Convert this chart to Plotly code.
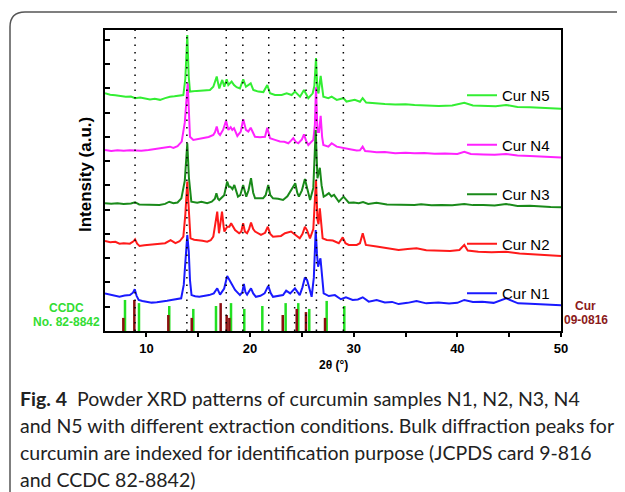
import plotly.graph_objects as go

# XRD patterns, 2theta in degrees, intensity offset per sample (a.u.)
n1_x = [6.0, 6.5, 7.0, 7.4, 7.9, 8.4, 8.7, 8.87, 9.05, 9.25, 9.6, 10.0, 10.5, 11.0, 11.6, 12.0, 12.4, 12.9,
        13.35, 13.6, 13.8, 13.94, 14.08, 14.2, 14.35, 14.7, 15.1, 15.6, 16.05, 16.5, 16.83, 17.1, 17.5, 17.79,
        17.95, 18.17, 18.55, 19.02, 19.25, 19.4, 19.55, 19.71, 20.09, 20.3, 20.56, 21.0, 21.4, 21.75, 22.0,
        22.21, 22.7, 23.18, 23.48, 23.87, 24.33, 24.6, 24.79, 25.05, 25.29, 25.5, 25.67, 25.94, 26.15, 26.33,
        26.45, 26.56, 26.79, 26.95, 27.1, 27.6, 28.18, 28.76, 29.25, 29.9, 30.4, 30.87, 31.45, 32.21, 33.0,
        33.7, 34.33, 35.2, 36.06, 37.0, 38.17, 39.2, 40.0, 40.67, 41.5, 42.4, 43.5, 44.71, 45.86, 47.0, 48.0,
        49.0, 50.0]
n1_y = [1.55, 1.5, 1.46, 1.41, 1.46, 1.48, 1.58, 1.72, 1.45, 1.28, 1.24, 1.2, 1.17, 1.19, 1.21, 1.25, 1.28, 1.31,
        1.35, 1.9, 3.2, 3.96, 3.3, 2.1, 1.48, 1.43, 1.41, 1.44, 1.48, 1.55, 1.76, 1.5, 1.75, 2.27,
        2.15, 2.03, 1.69, 1.48, 1.6, 1.94, 1.6, 1.5, 1.76, 1.55, 1.41, 1.45, 1.55, 1.86, 1.55,
        1.41, 1.44, 1.48, 1.66, 1.55, 1.76, 1.6, 1.48, 1.8, 2.21, 2.1, 1.83, 1.41, 2.2, 4.16,
        3.2, 2.65, 3.0, 2.2, 1.55, 1.44, 1.48, 1.31, 1.39, 1.28, 1.3, 1.39, 1.21, 1.28, 1.18,
        1.2, 1.11, 1.16, 1.24, 1.14, 1.17, 1.13, 1.16, 1.28, 1.2, 1.21, 1.16, 1.35, 1.14, 1.12, 1.1,
        1.09, 1.06]

n2_x = [6.0, 6.5, 7.0, 7.4, 7.8, 8.4, 8.75, 8.9, 9.1, 9.33, 9.8, 10.3, 10.8, 11.25, 11.8, 12.33, 12.6, 12.8,
        13.2, 13.56, 13.75, 13.94, 14.1, 14.25, 14.6, 14.9, 15.4, 15.86, 16.2, 16.45, 16.65, 16.83, 17.0,
        17.12, 17.29, 17.45, 17.52, 17.79, 18.0, 18.17, 18.55, 18.94, 19.15, 19.33, 19.5, 19.71, 19.9, 20.09,
        20.3, 20.48, 21.05, 21.45, 21.71, 21.95, 22.21, 22.98, 23.37, 23.95, 24.4, 24.79, 25.05, 25.29, 25.5,
        25.78, 26.1, 26.36, 26.5, 26.6, 26.73, 26.87, 27.0, 27.4, 27.98, 28.56, 28.94, 29.2, 29.52, 30.29,
        30.6, 30.87, 31.17, 32.21, 33.2, 34.33, 35.2, 36.06, 37.0, 38.17, 39.3, 40.2, 40.67, 41.0, 42.02,
        43.3, 44.71, 46.0, 47.5, 49.0, 50.0]
n2_y = [3.71, 3.66, 3.68, 3.6, 3.62, 3.6, 3.7, 3.78, 3.6, 3.51, 3.54, 3.56, 3.58, 3.59, 3.62, 3.75, 3.66, 3.62,
        3.7, 3.89, 4.8, 6.16, 4.9, 3.82, 3.76, 3.75, 3.72, 3.68, 3.74, 3.89, 4.4, 4.92, 4.03,
        4.4, 4.92, 4.3, 4.1, 4.3, 4.3, 4.44, 4.16, 4.03, 4.1, 4.44, 4.1, 4.03, 4.2, 4.47,
        4.2, 4.1, 3.96, 4.05, 4.3, 4.0, 3.89, 3.92, 4.03, 4.1, 3.96, 3.82, 4.0, 4.3, 4.15,
        3.82, 4.2, 6.23, 4.6, 4.4, 5.06, 4.3, 3.82, 3.75, 3.73, 3.62, 3.86, 3.62, 3.55, 3.55,
        3.62, 4.03, 3.55, 3.48, 3.42, 3.34, 3.38, 3.41, 3.33, 3.31, 3.3, 3.34, 3.55, 3.32, 3.27,
        3.25, 3.27, 3.2, 3.16, 3.12, 3.09]

n3_x = [6.0, 6.6, 7.2, 7.8, 8.5, 8.9, 9.3, 9.8, 10.5, 11.25, 11.8, 12.2, 12.6, 13.0, 13.37, 13.7, 13.94, 14.1,
        14.33, 14.9, 15.3, 15.86, 16.3, 16.6, 16.75, 16.9, 17.02, 17.5, 17.79, 17.95, 18.1, 18.3, 18.48, 18.83,
        19.05, 19.33, 19.63, 19.85, 20.09, 20.3, 20.48, 21.25, 21.5, 21.75, 21.95, 22.21, 22.7, 23.18, 23.6,
        23.95, 24.15, 24.36, 24.55, 24.71, 25.0, 25.29, 25.5, 25.79, 26.1, 26.33, 26.5, 26.73, 26.9, 27.1,
        27.35, 27.6, 27.85, 28.1, 28.56, 29.02, 29.52, 30.0, 30.48, 30.9, 31.4, 32.2, 33.2, 34.3, 35.86,
        36.5, 37.5, 38.5, 39.5, 40.67, 41.5, 42.5, 43.6, 44.7, 45.8, 47.0, 48.0, 49.0, 50.0]
n3_y = [5.27, 5.25, 5.27, 5.24, 5.26, 5.31, 5.22, 5.21, 5.2, 5.2, 5.24, 5.33, 5.27, 5.3, 5.47, 6.2, 7.74, 6.3,
        5.33, 5.29, 5.33, 5.27, 5.33, 5.45, 5.68, 5.45, 5.4, 5.6, 6.16, 5.95, 5.95, 5.85, 6.02, 5.54,
        5.6, 6.02, 5.54, 5.8, 6.3, 5.7, 5.47, 5.47, 5.6, 6.02, 5.6, 5.47, 5.45, 5.4, 5.55,
        5.81, 5.9, 6.09, 5.7, 5.54, 5.8, 6.27, 5.9, 5.4, 5.9, 8.29, 6.3, 6.73, 6.0, 5.54,
        5.6, 5.68, 5.55, 5.61, 5.33, 5.54, 5.29, 5.3, 5.27, 5.32, 5.24, 5.29, 5.22, 5.2, 5.2,
        5.23, 5.18, 5.2, 5.18, 5.24, 5.19, 5.2, 5.17, 5.24, 5.15, 5.16, 5.12, 5.11, 5.1]

n4_x = [6.0, 6.6, 7.2, 7.8, 8.4, 8.9, 9.5, 10.2, 10.8, 11.31, 11.9, 12.27, 12.6, 13.0, 13.4, 13.7, 13.98, 14.12,
        14.2, 14.52, 15.0, 15.49, 16.0, 16.45, 16.62, 16.78, 16.95, 17.1, 17.4, 17.68, 17.9, 18.13, 18.28,
        18.45, 18.77, 19.1, 19.34, 19.6, 19.83, 20.06, 20.47, 20.96, 21.44, 21.66, 21.92, 22.4, 22.88, 23.3,
        23.69, 23.95, 24.17, 24.4, 24.65, 25.0, 25.2, 25.4, 25.62, 26.1, 26.25, 26.36, 26.5, 26.65, 26.81,
        26.95, 27.07, 27.55, 27.87, 28.36, 29.0, 29.64, 30.29, 30.6, 30.86, 31.1, 31.6, 32.2, 33.0, 34.0,
        35.0, 35.87, 36.8, 37.8, 38.8, 40.0, 40.67, 41.3, 42.5, 43.6, 44.7, 45.8, 47.0, 48.0, 49.0, 50.0]
n4_y = [7.46, 7.42, 7.45, 7.43, 7.45, 7.44, 7.43, 7.46, 7.5, 7.53, 7.56, 7.6, 7.55, 7.62, 7.81, 8.6, 10.21, 8.8,
        8.01, 7.88, 7.92, 7.95, 8.0, 8.08, 8.2, 8.43, 8.15, 8.08, 8.3, 8.67, 8.29, 8.4, 8.29,
        8.36, 8.04, 8.22, 8.73, 8.29, 8.22, 8.38, 8.01, 7.99, 8.01, 8.38, 7.95, 7.88, 7.81, 7.8,
        7.74, 7.85, 7.95, 7.8, 7.74, 7.9, 8.11, 7.85, 7.67, 7.88, 8.5, 10.05, 8.2, 8.2, 8.87,
        8.0, 7.67, 7.6, 7.74, 7.6, 7.53, 7.49, 7.44, 7.45, 7.6, 7.42, 7.4, 7.37, 7.38, 7.33,
        7.35, 7.33, 7.34, 7.31, 7.32, 7.3, 7.39, 7.3, 7.28, 7.27, 7.3, 7.24, 7.22, 7.2, 7.17, 7.15]

n5_x = [6.0, 6.5, 7.0, 7.5, 8.0, 8.5, 8.9, 9.4, 9.9, 10.34, 10.8, 11.31, 11.8, 12.27, 12.7, 13.2, 13.56, 13.75,
        13.94, 14.08, 14.2, 14.85, 15.5, 16.13, 16.45, 16.62, 16.78, 16.92, 17.03, 17.18, 17.32, 17.51, 17.74,
        17.9, 18.22, 18.45, 18.7, 19.02, 19.34, 19.6, 19.8, 20.06, 20.31, 20.79, 21.28, 21.66, 21.92, 22.4,
        23.05, 23.53, 24.01, 24.33, 24.82, 25.2, 25.62, 26.04, 26.2, 26.36, 26.5, 26.6, 26.81, 26.95, 27.07,
        27.55, 27.87, 28.36, 29.0, 29.3, 29.8, 30.1, 30.6, 30.86, 31.2, 32.0, 33.0, 34.0, 35.0, 35.87, 37.0,
        38.2, 39.5, 40.67, 41.5, 42.7, 43.7, 44.7, 45.8, 47.0, 48.0, 49.0, 50.0]
n5_y = [9.8, 9.74, 9.72, 9.69, 9.66, 9.67, 9.6, 9.63, 9.59, 9.55, 9.57, 9.53, 9.6, 9.66, 9.68, 9.7, 9.73, 10.4,
        12.2, 10.5, 9.87, 9.9, 9.91, 9.94, 10.07, 10.3, 10.49, 10.2, 10.0, 10.2, 10.35, 10.07, 10.38,
        10.14, 10.28, 10.14, 10.05, 10.0, 10.38, 10.07, 10.14, 10.21, 9.94, 9.87, 9.85, 10.14, 9.8, 9.73,
        9.73, 9.8, 9.73, 9.87, 9.66, 9.94, 9.6, 9.8, 10.1, 11.25, 9.9, 9.8, 10.52, 9.9, 9.66,
        9.6, 9.66, 9.53, 9.6, 9.46, 9.5, 9.53, 9.45, 9.6, 9.42, 9.38, 9.36, 9.34, 9.35, 9.32, 9.3,
        9.28, 9.3, 9.41, 9.3, 9.28, 9.27, 9.32, 9.24, 9.22, 9.2, 9.18, 9.16]

# reference peaks used for indexing
ref_lines = [8.9, 13.9, 17.7, 19.3, 21.8, 24.3, 25.4, 26.4, 29.0]
ccdc_x = [7.93, 9.28, 12.2, 14.52, 16.71, 18.16, 19.44, 21.18, 23.43, 24.65, 25.71, 27.39, 29.09]
ccdc_h = [1.28, 1.15, 1.03, 0.91, 1.03, 1.15, 0.91, 1.03, 1.15, 1.15, 0.91, 1.24, 1.03]
jcpds_x = [7.77, 8.83, 12.11, 14.37, 17.16, 17.74, 18.0, 23.15, 24.5, 25.39, 27.23]
jcpds_h = [0.54, 1.28, 0.66, 0.54, 1.15, 0.66, 0.54, 0.66, 0.91, 0.78, 0.54]

# the page body adds an 8px offset, so the figure is drawn 8px smaller
OFF = 8
W, H = 625 - OFF, 492 - OFF
L, R, T, B = 105 - OFF, 561 - OFF, 30 - OFF, 331 - OFF   # plot area in figure pixels


def px(xp):
    # screen x (reference pixels) -> paper
    return (xp - OFF - L) / (R - L)


def py(yp):
    return (B - (yp - OFF)) / (B - T)


def sticks(xs, hs):
    sx, sy = [], []
    for x, h in zip(xs, hs):
        sx += [x, x, None]
        sy += [0, h, None]
    return sx, sy


fig = go.Figure()

series = [
    ("Cur N5", n5_x, n5_y, "#33ee33"),
    ("Cur N4", n4_x, n4_y, "#ff22ff"),
    ("Cur N3", n3_x, n3_y, "#1a8a1a"),
    ("Cur N2", n2_x, n2_y, "#ff1a1a"),
    ("Cur N1", n1_x, n1_y, "#1a1aff"),
]
for name, xs, ys, col in series:
    fig.add_trace(go.Scatter(x=xs, y=ys, mode="lines", name=name, legendgroup=name,
                             line=dict(color=col, width=2)))

gx, gy = sticks(ccdc_x, ccdc_h)
fig.add_trace(go.Scatter(x=gx, y=gy, mode="lines", showlegend=False,
                         line=dict(color="#22e022", width=2.5)))
rx, ry = sticks(jcpds_x, jcpds_h)
fig.add_trace(go.Scatter(x=rx, y=ry, mode="lines", showlegend=False,
                         line=dict(color="#8b1010", width=2.5)))

for xv in ref_lines:
    fig.add_shape(type="line", xref="x", yref="paper", x0=xv, x1=xv, y0=0, y1=1,
                  line=dict(color="black", width=1.5, dash="1.5px,6px"), layer="above")

# outer rounded frame around figure + caption
rx_, ry_ = 15 / (R - L), 15 / (B - T)
x0, yt, yb = px(10), py(12), py(520)
fig.add_shape(type="path", xref="paper", yref="paper",
              path=f"M {x0},{yb} L {x0},{yt - ry_} Q {x0},{yt} {x0 + rx_},{yt} L {px(700)},{yt}",
              line=dict(color="#555555", width=1.5))

ann = [
    dict(text="<b>Intensity (a.u.)</b>", x=px(85), y=py(175), textangle=-90,
         font=dict(size=17, color="black", family="Liberation Sans")),
    dict(text="<b>2θ (°)</b>", x=px(333), y=py(365),
         font=dict(size=12, color="black", family="Liberation Sans")),
    dict(text="<b>CCDC</b>", x=px(66), y=py(308),
         font=dict(size=12, color="#33dd33", family="Liberation Sans")),
    dict(text="<b>No. 82-8842</b>", x=px(66), y=py(322),
         font=dict(size=12, color="#33dd33", family="Liberation Sans")),
    dict(text="<b>Cur</b>", x=px(585), y=py(306),
         font=dict(size=12, color="#8b1a1a", family="Liberation Sans")),
    dict(text="<b>09-0816</b>", x=px(586), y=py(320),
         font=dict(size=12, color="#8b1a1a", family="Liberation Sans")),
]
for a in ann:
    fig.add_annotation(xref="paper", yref="paper", showarrow=False,
                       xanchor="center", yanchor="middle", **a)

caption = [
    "<b>Fig. 4</b>\u00a0\u00a0Powder XRD patterns of curcumin samples N1, N2, N3, N4",
    "and N5 with different extraction conditions. Bulk diffraction peaks for",
    "curcumin are indexed for identification purpose (JCPDS card 9-816",
    "and CCDC 82-8842)",
]
for i, line in enumerate(caption):
    fig.add_annotation(xref="paper", yref="paper", showarrow=False, text=line,
                       x=px(18), y=py(398 + 27 * i), xanchor="left", yanchor="middle",
                       font=dict(size=19.5, color="#222222", family="Lato"))

fig.update_layout(
    width=W, height=H,
    margin=dict(l=L, r=W - R, t=T, b=H - B, pad=0),
    paper_bgcolor="white", plot_bgcolor="white",
    showlegend=True,
    legend=dict(x=px(462), y=py(79), xanchor="left", yanchor="top",
                bgcolor="rgba(0,0,0,0)", traceorder="grouped", tracegroupgap=27,
                font=dict(size=15, color="black", family="Liberation Sans")),
)
fig.update_xaxes(range=[6, 50], dtick=10, tick0=0, showgrid=False, zeroline=False,
                 showline=True, linecolor="black", linewidth=2, mirror=True,
                 ticks="outside", ticklen=4, tickwidth=1.5, tickcolor="black",
                 minor=dict(dtick=5, ticks="outside", ticklen=4, tickwidth=1.5, tickcolor="black"),
                 tickfont=dict(family="Liberation Sans", size=13, color="black", weight="bold"))
fig.update_yaxes(range=[0, 12.41], dtick=1, tick0=0, showgrid=False, zeroline=False,
                 showline=True, linecolor="black", linewidth=2, mirror=True,
                 ticks="inside", ticklen=5, tickwidth=1.5, tickcolor="black",
                 showticklabels=False)

fig.write_html("out.html")
